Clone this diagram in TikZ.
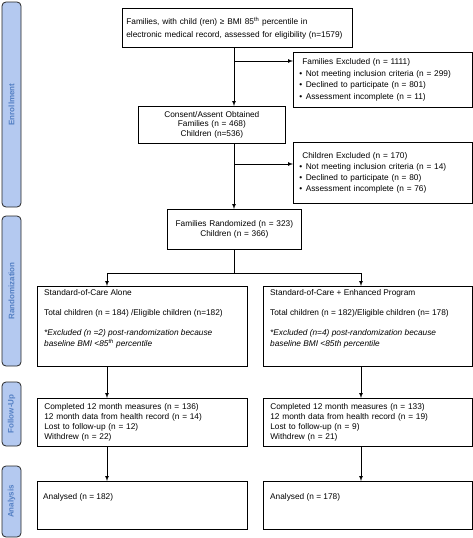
\documentclass[tikz,border=0pt]{standalone}
\usepackage{fontspec}
\setmainfont{Liberation Sans}
\usetikzlibrary{arrows,positioning}
\definecolor{stagefill}{RGB}{180,201,240}
\definecolor{stagetext}{RGB}{84,128,196}

\begin{document}
\begin{tikzpicture}[x=1pt,y=-1pt,>=latex,font=\fontsize{8.3}{11}\selectfont]
\tikzstyle{stage}=[draw=black!85,line width=0.8pt,fill=stagefill,rounded corners=4pt,rotate=90,minimum height=19pt,inner sep=0pt,text=stagetext,font=\fontsize{8}{9}\selectfont\bfseries]
\tikzstyle{box}=[draw,line width=0.7pt,anchor=north west,inner ysep=0pt]
\tikzstyle{inbox}=[inner sep=0pt,align=left]
\tikzstyle{flow}=[->,line width=0.7pt]

\useasboundingbox (0,0) rectangle (473,538);

% phase bars
\node[stage, minimum width=205pt] (enrol) at (11.5,104.5) {Enrollment};
\node[stage, minimum width=150pt] (random) at (11.5,291) {Randomization};
\node[stage, minimum width=64pt] (follow) at (11.5,414) {Follow-Up};
\node[stage, minimum width=71pt] (analys) at (11.5,501.5) {Analysis};

% enrollment
\node[box, inner xsep=4pt, text width=222pt, minimum height=39pt, align=left,
      font=\fontsize{8.3}{13}\selectfont] (elig) at (122,8)
  {Families, with child (ren) ≥ BMI 85\textsuperscript{th} percentile in\\
   electronic medical record, assessed for eligibility (n=1579)};
\node[box, inner xsep=9pt, text width=161pt, minimum height=55pt, align=left,
      font=\fontsize{8.3}{11.5}\selectfont] (famex) at (293,52)
  {Families Excluded (n = 1111)\\
   \hspace*{-3pt}\textbullet\hspace{3.5pt}Not meeting inclusion criteria (n = 299)\\
   \hspace*{-3pt}\textbullet\hspace{3.5pt}Declined to participate (n = 801)\\
   \hspace*{-3pt}\textbullet\hspace{3.5pt}Assessment incomplete (n = 11)};
\node[box, inner xsep=4pt, text width=139pt, minimum height=37pt, align=center,
      font=\fontsize{8.3}{9}\selectfont] (consent) at (138,106)
  {Consent/Assent Obtained\\ Families (n = 468)\\ Children (n=536)};
\node[box, inner xsep=9pt, text width=161pt, minimum height=61pt, align=left] (childex) at (293,142)
  {Children Excluded (n = 170)\\
   \hspace*{-3pt}\textbullet\hspace{3.5pt}Not meeting inclusion criteria (n = 14)\\
   \hspace*{-3pt}\textbullet\hspace{3.5pt}Declined to participate (n = 80)\\
   \hspace*{-3pt}\textbullet\hspace{3.5pt}Assessment incomplete (n = 76)};

% randomization
\node[box, inner xsep=4pt, text width=126pt, minimum height=40pt, align=center,
      font=\fontsize{8.3}{10}\selectfont] (rand) at (167,209)
  {Families Randomized (n = 323)\\ Children (n = 366)};
\node[box, minimum width=210pt, minimum height=80pt] (soc) at (37,286) {};
\node[box, minimum width=209pt, minimum height=80pt] (enh) at (263,286) {};
\node[inbox, below right=3.5pt and 7pt of soc.north west] (soctext)
  {Standard-of-Care Alone\\[9pt]
   Total children (n = 184) /Eligible children (n=182)\\[9pt]
   \textit{*Excluded (n =2) post-randomization because}\\
   \textit{baseline BMI <85\textsuperscript{th} percentile}};
\node[inbox, below right=3.5pt and 7pt of enh.north west] (enhtext)
  {Standard-of-Care + Enhanced Program\\[9pt]
   Total children (n = 182)/Eligible children (n= 178)\\[9pt]
   \textit{*Excluded (n=4) post-randomization because}\\
   \textit{baseline BMI <85th percentile}};

% follow-up
\node[box, inner xsep=7pt, text width=196pt, minimum height=48pt, align=left,
      font=\fontsize{8.3}{10.3}\selectfont] (fusoc) at (37,398)
  {Completed 12 month measures (n = 136)\\
   12 month data from health record (n = 14)\\
   Lost to follow-up (n = 12)\\
   Withdrew (n = 22)};
\node[box, inner xsep=7pt, text width=195pt, minimum height=48pt, align=left,
      font=\fontsize{8.3}{10.3}\selectfont] (fuenh) at (263,398)
  {Completed 12 month measures (n = 133)\\
   12 month data from health record (n = 19)\\
   Lost to follow-up (n = 9)\\
   Withdrew (n = 21)};

% analysis
\node[box, minimum width=210pt, minimum height=48pt] (ansoc) at (37,481) {};
\node[box, minimum width=209pt, minimum height=48pt] (anenh) at (263,481) {};
\node[inbox, below right=12pt and 6pt of ansoc.north west] (ansoctext) {Analysed (n = 182)};
\node[inbox, below right=12pt and 7pt of anenh.north west] (anenhtext) {Analysed (n = 178)};

% connectors
\coordinate (trunk) at (234,0);
\coordinate (exfam) at (234,61);
\coordinate (exchild) at (234,164);
\coordinate (split) at (234,273);
\coordinate (armL) at (107,273);
\coordinate (armR) at (361,273);

\draw[flow] (elig.south -| trunk) -- (consent.north -| trunk);
\draw[flow] (exfam) -- (exfam -| famex.west);
\draw[flow] (consent.south -| trunk) -- (rand.north -| trunk);
\draw[flow] (exchild) -- (exchild -| childex.west);
\draw[line width=0.7pt] (rand.south -| trunk) -- (split);
\draw[line width=0.7pt] (armL) -- (armR);
\draw[flow] (armL) -- (armL |- soc.north);
\draw[flow] (armR) -- (armR |- enh.north);
\draw[flow] (soc.south -| armL) -- (fusoc.north -| armL);
\draw[flow] (enh.south -| armR) -- (fuenh.north -| armR);
\draw[flow] (fusoc.south -| armL) -- (ansoc.north -| armL);
\draw[flow] (fuenh.south -| armR) -- (anenh.north -| armR);
\end{tikzpicture}
\end{document}
